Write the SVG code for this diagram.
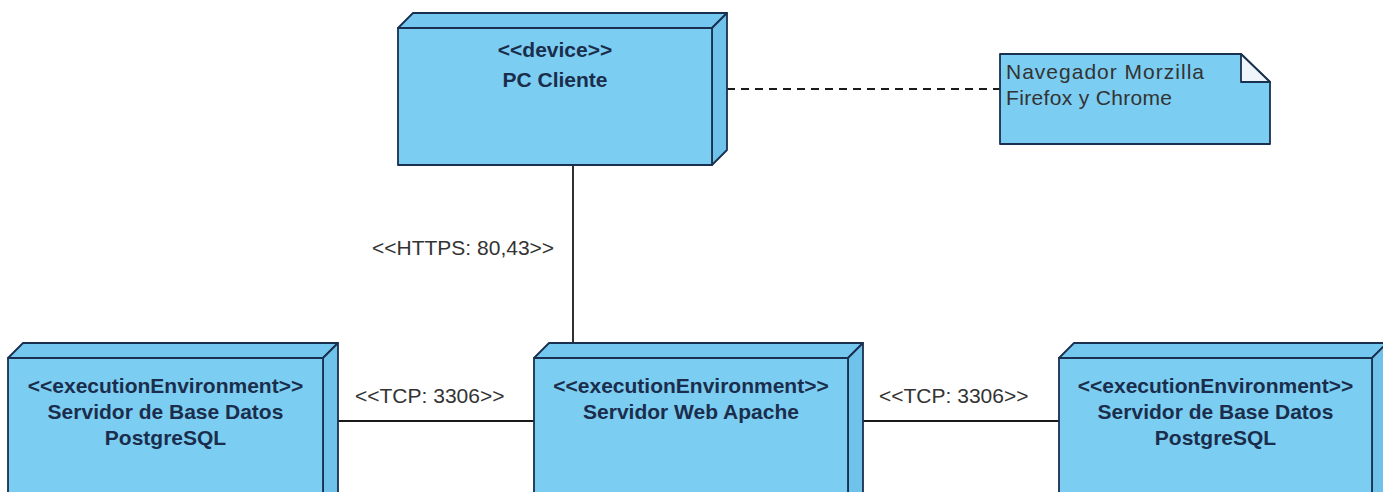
<svg xmlns="http://www.w3.org/2000/svg" width="1383" height="492" viewBox="0 0 1383 492">
<style>
.face{fill:#7BCDF1;stroke:#1A3050;stroke-width:1.8;stroke-linejoin:round}
.top{fill:#74C7EE;stroke:#1A3050;stroke-width:1.8;stroke-linejoin:round}
.side{fill:#6FC2EA;stroke:#1A3050;stroke-width:1.8;stroke-linejoin:round}
.t{font-family:"Liberation Sans",Arial,sans-serif;font-size:21px;font-weight:bold;fill:#1B2D4C;text-anchor:middle}
.lbl{font-family:"Liberation Sans",Arial,sans-serif;font-size:21px;fill:#333333}
.conn{stroke:#1A1A1A;stroke-width:1.8;fill:none}
.dash{stroke:#1A1A1A;stroke-width:1.8;fill:none;stroke-dasharray:8 6}
</style>
<rect width="1383" height="492" fill="#ffffff"/>
<g id="connectors">
<line class="conn" x1="573" y1="165" x2="573" y2="343"/>
<line class="conn" x1="330" y1="421" x2="534" y2="421"/>
<line class="conn" x1="855" y1="421" x2="1059" y2="421"/>
<line class="dash" x1="727" y1="89" x2="1000" y2="89"/>
<text class="lbl" x="372" y="255">&lt;&lt;HTTPS: 80,43&gt;&gt;</text>
<text class="lbl" x="355" y="403">&lt;&lt;TCP: 3306&gt;&gt;</text>
<text class="lbl" x="879" y="403">&lt;&lt;TCP: 3306&gt;&gt;</text>
</g>
<g id="pc-cliente">
<polygon class="top" points="398,28 413,13 727,13 712,28"/>
<polygon class="side" points="712,28 727,13 727,150 712,165"/>
<rect class="face" x="398" y="28" width="314" height="137"/>
<text class="t" x="555" y="57">&lt;&lt;device&gt;&gt;</text>
<text class="t" x="555" y="87">PC Cliente</text>
</g>
<g id="note">
<path class="face" d="M1000,54 H1241 L1270,82 V144 H1000 Z"/>
<path d="M1241,54 V82 H1270 Z" fill="#EEF6FB" stroke="#1A3050" stroke-width="1.8" stroke-linejoin="round"/>
<text class="lbl" x="1006" y="79" fill="#2A2A3A" textLength="198">Navegador Morzilla</text>
<text class="lbl" x="1006" y="105" fill="#2A2A3A" textLength="166">Firefox y Chrome</text>
</g>
<g id="db-left">
<polygon class="top" points="8,358 23,343 338,343 323,358"/>
<polygon class="side" points="323,358 338,343 338,500 323,500"/>
<rect class="face" x="8" y="358" width="315" height="150"/>
<text class="t" x="165.5" y="393">&lt;&lt;executionEnvironment&gt;&gt;</text>
<text class="t" x="165.5" y="419">Servidor de Base Datos</text>
<text class="t" x="165.5" y="445">PostgreSQL</text>
</g>
<g id="web-apache">
<polygon class="top" points="534,358 549,343 863,343 848,358"/>
<polygon class="side" points="848,358 863,343 863,500 848,500"/>
<rect class="face" x="534" y="358" width="314" height="150"/>
<text class="t" x="691" y="393">&lt;&lt;executionEnvironment&gt;&gt;</text>
<text class="t" x="691" y="419">Servidor Web Apache</text>
</g>
<g id="db-right">
<polygon class="top" points="1059,358 1074,343 1387,343 1372,358"/>
<polygon class="side" points="1372,358 1387,343 1387,500 1372,500"/>
<rect class="face" x="1059" y="358" width="313" height="150"/>
<text class="t" x="1215.5" y="393">&lt;&lt;executionEnvironment&gt;&gt;</text>
<text class="t" x="1215.5" y="419">Servidor de Base Datos</text>
<text class="t" x="1215.5" y="445">PostgreSQL</text>
</g>
</svg>
